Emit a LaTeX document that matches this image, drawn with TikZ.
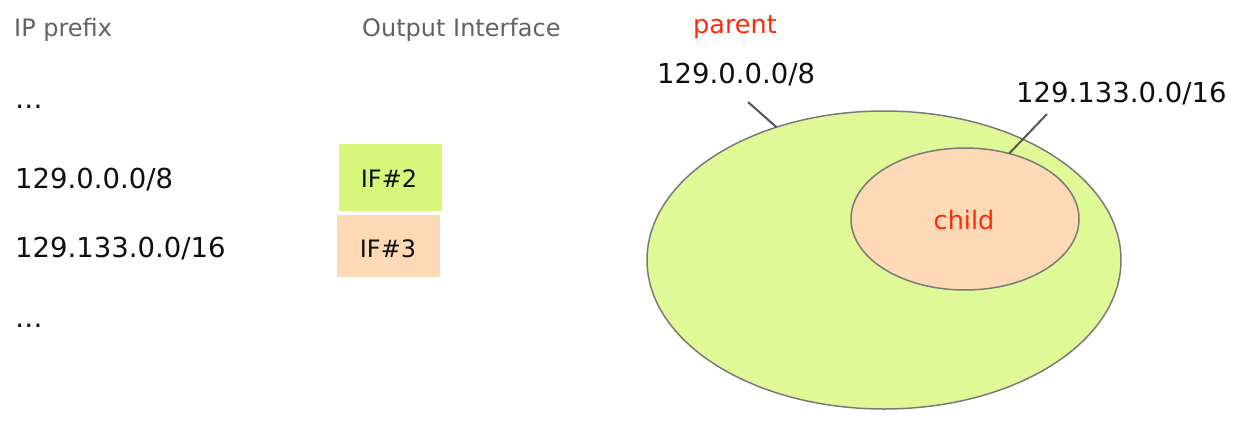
\documentclass[tikz,border=0pt]{standalone}
\usepackage{fontspec}
\setmainfont{DejaVu Sans}
\usetikzlibrary{shapes.geometric}
\definecolor{hdrgrey}{RGB}{98,98,98}
\definecolor{boxgreen}{RGB}{214,247,122}
\definecolor{ellgreen}{RGB}{222,249,149}
\definecolor{peach}{RGB}{253,218,181}
\definecolor{lblred}{RGB}{255,40,10}
\definecolor{edgegrey}{RGB}{122,122,122}
\definecolor{leadgrey}{RGB}{85,85,85}
\definecolor{txt}{RGB}{15,15,15}
\tikzset{
  hdrtext/.style={anchor=base west, inner sep=0, text=hdrgrey, font=\fontsize{24}{29}\selectfont},
  pfxtext/.style={anchor=base west, inner sep=0, text=txt, font=\fontsize{27.5}{33}\selectfont},
  iftext/.style={anchor=base, inner sep=0, text=txt, font=\fontsize{24}{29}\selectfont},
  redlbl/.style={anchor=base west, inner sep=0, text=lblred, font=\fontsize{25.5}{30}\selectfont},
  blob/.style={ellipse, draw=edgegrey, line width=1.5pt, inner sep=0, outer sep=0},
  leader/.style={draw=leadgrey, line width=2pt}
}
\begin{document}
\begin{tikzpicture}[x=1pt,y=-1pt]
\useasboundingbox (0,0) rectangle (1235,429);
% table headers
\node[hdrtext] (h1) at (14,36) {IP prefix};
\node[hdrtext] (h2) at (362,36) {Output Interface};
% table rows
\node[pfxtext] (d1) at (15,108) {…};
\node[pfxtext] (r1) at (15,188) {129.0.0.0/8};
\node[pfxtext] (r2) at (15,257) {129.133.0.0/16};
\node[pfxtext] (d2) at (15,327) {…};
% interface boxes
\fill[boxgreen] (339,144) rectangle (442,211);
\fill[peach] (337,215) rectangle (440,277);
\node[iftext] (if2) at (389,187) {IF\#2};
\node[iftext] (if3) at (388,257) {IF\#3};
% set diagram
\node[blob, fill=ellgreen, minimum width=474pt, minimum height=298pt] (big) at (884,260) {};
\node[blob, fill=peach, minimum width=228pt, minimum height=142pt] (small) at (965,219) {};
\node[redlbl] (par) at (693,33) {parent};
\node[redlbl, anchor=base] (chl) at (964,229) {child};
\node[pfxtext] (lb1) at (657,83) {129.0.0.0/8};
\node[pfxtext] (lb2) at (1016,102) {129.133.0.0/16};
\coordinate (l1) at (748,102);
\coordinate (l2) at (1047,114);
\draw[leader] (l1) -- (big.129.8);
\draw[leader] (l2) -- (small.56.9);
\end{tikzpicture}
\end{document}
